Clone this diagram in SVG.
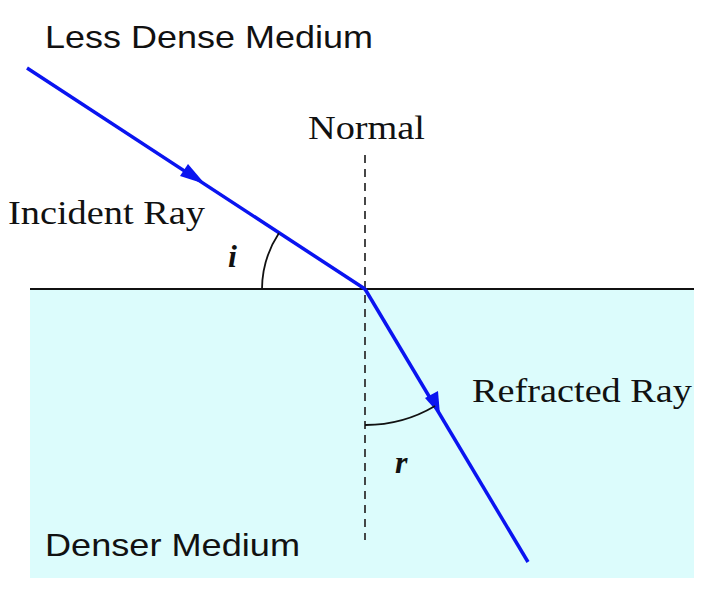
<svg xmlns="http://www.w3.org/2000/svg" width="716" height="600" viewBox="0 0 716 600">
<style>
.sans{font-family:"Liberation Sans","DejaVu Sans",sans-serif;font-size:32px;fill:#111}
.serif{font-family:"Liberation Serif","DejaVu Serif",serif;font-size:34px;fill:#111}
.ang{font-family:"Liberation Serif",serif;font-size:32px;font-weight:bold;font-style:italic;fill:#111}
.ray{stroke:#0a14f0;stroke-width:3.5;fill:none}
.head{fill:#0a14f0}
</style>
<rect width="716" height="600" fill="#fff"/>
<g id="denser-medium"><rect x="30" y="289" width="664" height="289" fill="#dcfcfc"/></g>
<g id="surface"><line x1="30" y1="289" x2="694" y2="289" stroke="#111" stroke-width="2"/></g>
<g id="normal"><line x1="365" y1="155" x2="365" y2="540" stroke="#333" stroke-width="1.8" stroke-dasharray="8,6"/></g>
<g id="connectors">
<line class="ray" x1="27" y1="68" x2="365" y2="289"/>
<polygon class="head" points="205,184 180,176 188,164"/>
<line class="ray" x1="365" y1="289" x2="528" y2="562"/>
<polygon class="head" points="440,415 425,398 438,391"/>
<path d="M262,289 A103,103 0 0 1 279,233" fill="none" stroke="#111" stroke-width="1.8"/>
<path d="M365,425 A136,136 0 0 0 435,406" fill="none" stroke="#111" stroke-width="1.8"/>
</g>
<g id="labels">
<text class="sans" x="45" y="48" textLength="328" lengthAdjust="spacingAndGlyphs">Less Dense  Medium</text>
<text class="serif" x="308" y="139" textLength="117" lengthAdjust="spacingAndGlyphs">Normal</text>
<text class="serif" x="8" y="224" textLength="197" lengthAdjust="spacingAndGlyphs">Incident Ray</text>
<text class="ang" x="228" y="267">i</text>
<text class="serif" x="472" y="402" textLength="220" lengthAdjust="spacingAndGlyphs">Refracted Ray</text>
<text class="ang" x="395" y="473">r</text>
<text class="sans" x="45" y="556" textLength="255" lengthAdjust="spacingAndGlyphs">Denser Medium</text>
</g>
</svg>
